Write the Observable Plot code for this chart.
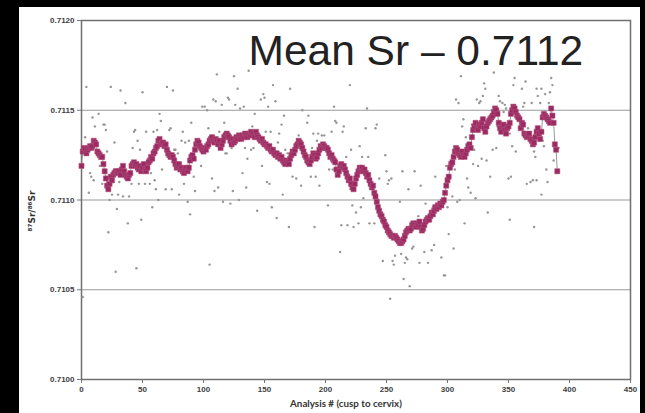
<!DOCTYPE html>
<html>
<head>
<meta charset="utf-8">
<script src="https://cdn.jsdelivr.net/npm/d3@7"></script>
<script src="https://cdn.jsdelivr.net/npm/@observablehq/plot@0.6"></script>
<style>
  html, body { margin: 0; padding: 0; background: #000; }
  #panel { position: absolute; left: 19px; top: 7px; width: 621px; height: 406px; background: #fff; }
  #chart { position: absolute; left: 0; top: 0; }
</style>
</head>
<body>
<div id="panel"></div>
<div id="chart"></div>
<script>
// Texts
const title = "Mean Sr – 0.7112";
const xLabel = "Analysis # (cusp to cervix)";
const yLabel = "⁸⁷Sr/⁸⁶Sr";

// Axis ticks
const xTicks = [0, 50, 100, 150, 200, 250, 300, 350, 400, 450];
const yTicks = [0.7100, 0.7105, 0.7110, 0.7115, 0.7120];
const gridLevels = [0.7105, 0.7110, 0.7115];

// Running mean of 87Sr/86Sr, one value per analysis (analysis # = index)
const runningMean = [0.71119,
  0.71127,0.71129,0.71128,0.71126,0.71128,0.71129,0.71130,0.71129,0.71130,
  0.71133,0.71132,0.71131,
  0.71127,0.71126,0.71125,0.71124,
  0.71124,0.71120,0.71116,0.71112,0.71108,0.71106,0.71109,
  0.71113,0.71111,0.71114,
  0.71115,0.71116,0.71116,0.71115,0.71116,0.71114,0.71117,
  0.71119,0.71116,0.71114,0.71113,0.71112,0.71114,0.71115,
  0.71119,0.71120,0.71121,0.71119,0.71120,
  0.71118,0.71117,0.71119,0.71116,0.71118,0.71120,0.71117,0.71116,0.71118,0.71121,
  0.71122,0.71124,0.71123,0.71126,
  0.71127,0.71129,0.71130,
  0.71133,0.71134,0.71131,0.71132,
  0.71132,0.71130,0.71131,0.71128,
  0.71126,0.71125,0.71124,0.71125,0.71124,
  0.71122,0.71120,0.71118,0.71119,0.71120,
  0.71117,0.71118,0.71116,0.71115,0.71117,0.71118,0.71116,0.71118,
  0.71122,0.71124,0.71125,0.71123,
  0.71128,0.71131,0.71133,0.71132,0.71130,
  0.71129,0.71128,0.71127,0.71129,0.71128,0.71130,
  0.71131,0.71133,0.71134,0.71135,0.71133,0.71132,0.71134,0.71133,
  0.71131,0.71133,0.71129,0.71131,0.71133,0.71135,
  0.71136,0.71137,0.71136,0.71135,
  0.71133,0.71131,0.71134,0.71132,0.71133,
  0.71135,0.71134,0.71136,0.71135,0.71134,0.71136,0.71135,
  0.71137,0.71136,0.71135,0.71137,0.71136,0.71138,0.71136,
  0.71137,0.71135,0.71138,0.71136,0.71135,
  0.71134,0.71133,0.71134,0.71132,0.71131,
  0.71131,0.71130,0.71129,0.71130,0.71128,0.71127,0.71128,
  0.71126,0.71125,0.71126,0.71124,0.71125,0.71123,
  0.71124,0.71122,0.71121,0.71120,0.71122,0.71121,0.71120,
  0.71123,0.71125,0.71127,0.71126,0.71128,
  0.71130,0.71131,0.71133,0.71132,0.71131,0.71129,
  0.71127,0.71125,0.71124,0.71122,0.71121,0.71120,0.71122,
  0.71124,0.71126,0.71125,0.71123,0.71124,
  0.71126,0.71128,0.71130,0.71129,0.71131,0.71130,0.71129,
  0.71129,0.71128,0.71126,0.71124,0.71125,0.71123,0.71122,0.71121,
  0.71117,0.71114,0.71116,
  0.71119,0.71120,0.71118,0.71119,0.71117,
  0.71115,0.71113,0.71111,0.71112,0.71109,0.71107,0.71106,0.71109,
  0.71112,0.71114,0.71116,0.71118,
  0.71117,0.71118,0.71116,0.71117,0.71115,
  0.71113,0.71114,0.71111,
  0.71109,0.71107,0.71108,0.71104,0.71102,
  0.71099,0.71096,0.71094,
  0.71092,0.71091,0.71089,0.71088,0.71086,0.71085,
  0.71083,0.71082,0.71081,0.71080,0.71080,0.71079,
  0.71080,0.71079,0.71078,0.71077,0.71076,0.71076,0.71077,0.71078,
  0.71080,0.71082,0.71083,0.71084,0.71083,0.71084,
  0.71086,0.71087,0.71086,0.71085,0.71087,0.71086,0.71088,0.71085,0.71083,0.71084,
  0.71086,0.71088,0.71089,0.71090,0.71089,0.71091,
  0.71093,0.71092,0.71094,0.71096,0.71095,0.71097,
  0.71096,0.71098,0.71097,
  0.71099,0.71100,0.71104,0.71108,0.71111,0.71113,0.71118,0.71120,0.71121,
  0.71124,0.71127,0.71129,0.71128,
  0.71126,0.71125,0.71124,0.71127,0.71125,0.71124,0.71126,0.71128,
  0.71130,0.71131,0.71129,0.71135,
  0.71139,0.71141,0.71143,0.71140,
  0.71139,0.71142,0.71141,0.71143,0.71145,0.71140,0.71138,0.71141,0.71143,
  0.71144,0.71145,0.71146,0.71147,
  0.71149,0.71151,0.71150,0.71148,
  0.71143,0.71140,0.71138,0.71141,0.71142,0.71139,0.71137,0.71140,0.71141,0.71143,
  0.71148,0.71150,0.71152,0.71151,0.71149,0.71147,
  0.71146,0.71145,0.71140,0.71143,0.71142,
  0.71137,0.71136,0.71135,0.71136,0.71137,0.71134,
  0.71133,0.71131,0.71132,
  0.71135,0.71138,0.71140,0.71137,0.71134,0.71138,
  0.71146,0.71148,0.71147,0.71146,0.71145,
  0.71144,0.71143,0.71151,
  0.71147,0.71143,0.71131,0.71128,0.71116];

// Individual analyses scattered around the running mean
const rawAnalysis = [
  4,24,32,36,50,70,75,99,14,9,19,18,11,20,3,27,43,44,46,53,59,62,64,65,72,73,83,90,82,88,85,77,76,79,42,48,21,
  7,8,10,6,15,17,26,31,41,47,52,56,57,60,66,69,61,74,80,84,92,93,98,25,30,34,39,23,63,87,29,58,89,49,38,22,28,45,1,
  111,125,137,128,157,171,108,110,120,121,149,150,147,159,101,103,115,126,130,133,153,142,166,164,181,185,186,117,
  104,113,140,151,155,162,178,190,194,193,197,177,179,189,141,139,134,119,118,123,136,161,167,169,132,148,173,176,
  180,188,192,195,107,112,109,152,154,165,135,124,129,116,122,144,156,160,170,191,105,
  220,207,234,208,209,215,214,205,233,241,242,199,228,221,217,230,235,249,203,206,211,250,254,252,251,244,273,263,
  268,278,299,290,231,202,222,229,225,261,213,218,223,227,236,240,248,276,282,288,212,247,255,257,256,262,266,267,
  265,272,271,277,281,284,287,289,295,297,264,269,253,
  311,338,330,331,355,354,364,361,385,386,373,377,384,380,374,329,342,343,307,309,324,326,327,345,347,363,369,376,
  383,348,362,346,313,320,323,341,349,366,312,315,351,367,353,375,378,379,340,337,322,356,372,371,387,391,328,332,
  321,325,306,335,350,352,365,368,370,373,381,382,316,317,319,323,304,308,310,377,300,333,351,371,314,301,305,298
];
const rawSr = [
  0.71163,0.71163,0.71161,0.71154,0.71160,0.71163,0.71161,0.71152,0.71148,0.71146,0.71142,0.71142,0.71141,0.71139,
  0.71135,0.71132,0.71138,0.71139,0.71133,0.71138,0.71138,0.71139,0.71148,0.71144,0.71139,0.71140,0.71138,0.71143,
  0.71133,0.71133,0.71132,0.71128,0.71128,0.71126,0.71129,0.71128,0.71127,
  0.71115,0.71113,0.71111,0.71104,0.71119,0.71109,0.71110,0.71110,0.71109,0.71109,0.71109,0.71109,0.71115,0.71111,
  0.71117,0.71106,0.71106,0.71106,0.71103,0.71109,0.71113,0.71105,0.71119,0.71103,0.71103,0.71102,0.71102,0.71100,
  0.71100,0.71099,0.71095,0.71096,0.71092,0.71089,0.71087,0.71082,0.71060,0.71062,0.71046,
  0.71170,0.71169,0.71172,0.71162,0.71164,0.71162,0.71156,0.71155,0.71157,0.71156,0.71159,0.71157,0.71156,0.71155,
  0.71152,0.71150,0.71153,0.71153,0.71151,0.71152,0.71152,0.71148,0.71147,0.71142,0.71150,0.71143,0.71147,0.71143,
  0.71140,0.71138,0.71141,0.71138,0.71138,0.71137,0.71136,0.71137,0.71137,0.71133,0.71136,0.71132,0.71129,0.71129,
  0.71129,0.71128,0.71129,0.71126,0.71126,0.71129,0.71123,0.71132,0.71128,0.71126,0.71115,0.71119,0.71113,0.71112,
  0.71108,0.71113,0.71113,0.71108,0.71112,0.71107,0.71105,0.71110,0.71109,0.71103,0.71107,0.71105,0.71100,0.71099,
  0.71098,0.71094,0.71096,0.71090,0.71085,0.71085,0.71064,
  0.71164,0.71152,0.71151,0.71144,0.71143,0.71141,0.71138,0.71138,0.71140,0.71140,0.71142,0.71136,0.71130,0.71128,
  0.71124,0.71124,0.71124,0.71125,0.71117,0.71117,0.71117,0.71116,0.71112,0.71111,0.71109,0.71112,0.71116,0.71116,
  0.71106,0.71108,0.71119,0.71113,0.71101,0.71097,0.71097,0.71096,0.71093,0.71099,0.71086,0.71086,0.71085,0.71087,
  0.71087,0.71087,0.71086,0.71091,0.71098,0.71096,0.71071,0.71066,0.71066,0.71069,0.71064,0.71070,0.71068,0.71067,
  0.71065,0.71074,0.71073,0.71065,0.71071,0.71065,0.71072,0.71075,0.71068,0.71058,0.71056,0.71052,0.71045,
  0.71169,0.71171,0.71165,0.71162,0.71168,0.71164,0.71166,0.71162,0.71168,0.71164,0.71162,0.71162,0.71160,0.71159,
  0.71158,0.71158,0.71158,0.71155,0.71156,0.71154,0.71156,0.71154,0.71155,0.71154,0.71153,0.71154,0.71154,0.71154,
  0.71154,0.71151,0.71152,0.71149,0.71145,0.71142,0.71141,0.71141,0.71140,0.71140,0.71141,0.71135,0.71137,0.71134,
  0.71130,0.71133,0.71133,0.71130,0.71129,0.71128,0.71128,0.71127,0.71124,0.71127,0.71122,0.71129,0.71123,0.71122,
  0.71120,0.71119,0.71117,0.71113,0.71112,0.71113,0.71109,0.71110,0.71111,0.71111,0.71117,0.71110,0.71112,0.71107,
  0.71104,0.71101,0.71102,0.71099,0.71100,0.71103,0.71096,0.71093,0.71089,0.71085,0.71087,0.71081,0.71073,0.71058
];

const labelFont = "Liberation Sans, Arial, sans-serif";

const chart = Plot.plot({
  width: 645,
  height: 413,
  marginLeft: 81,
  marginRight: 15,
  marginTop: 20,
  marginBottom: 34,
  style: { background: "transparent", fontFamily: labelFont, fontSize: "8px", fontWeight: "bold", color: "#404040" },
  x: { domain: [0, 450] },
  y: { domain: [0.7100, 0.7120] },
  marks: [
    Plot.ruleY(gridLevels, { stroke: "#9a9a9a", strokeWidth: 1.2 }),
    Plot.frame({ stroke: "#6f6f6f", strokeWidth: 1.5 }),
    Plot.axisX({ ticks: xTicks, tickSize: 4, tickPadding: 3, tickFormat: d => String(d), label: null, stroke: "#777", fill: "#404040" }),
    Plot.axisY({ ticks: yTicks, tickSize: 4, tickPadding: 3, tickFormat: d3.format(".4f"), label: null, stroke: "#777", fill: "#404040" }),
    Plot.dot(rawSr, { x: rawAnalysis, y: rawSr, r: 1.2, fill: "#959595", stroke: null }),
    Plot.line(runningMean, { x: (d, i) => i, y: d => d, stroke: "#8c8c8c", strokeWidth: 0.9 }),
    Plot.dot(runningMean, { x: (d, i) => i, y: d => d, symbol: "square", r: 2.9, fill: "#9b2a62", stroke: "#b5547f", strokeWidth: 0.5 }),
    Plot.text([title], { frameAnchor: "top-left", textAnchor: "start", lineAnchor: "top", dx: 167, dy: 14, fontSize: 42.5, fontWeight: "normal", fill: "#222", fontFamily: labelFont }),
    Plot.text([xLabel], { frameAnchor: "bottom", dx: -10, dy: 27, fontSize: 9.8, fontWeight: "bold", fill: "#333", fontFamily: "Lato, sans-serif" }),
    Plot.text([yLabel], { frameAnchor: "left", textAnchor: "middle", lineAnchor: "middle", rotate: -90, dx: -49, dy: 11, fontSize: 9, fontWeight: "bold", fill: "#333", fontFamily: "DejaVu Sans, sans-serif" })
  ]
});

document.getElementById("chart").append(chart);
</script>
</body>
</html>
